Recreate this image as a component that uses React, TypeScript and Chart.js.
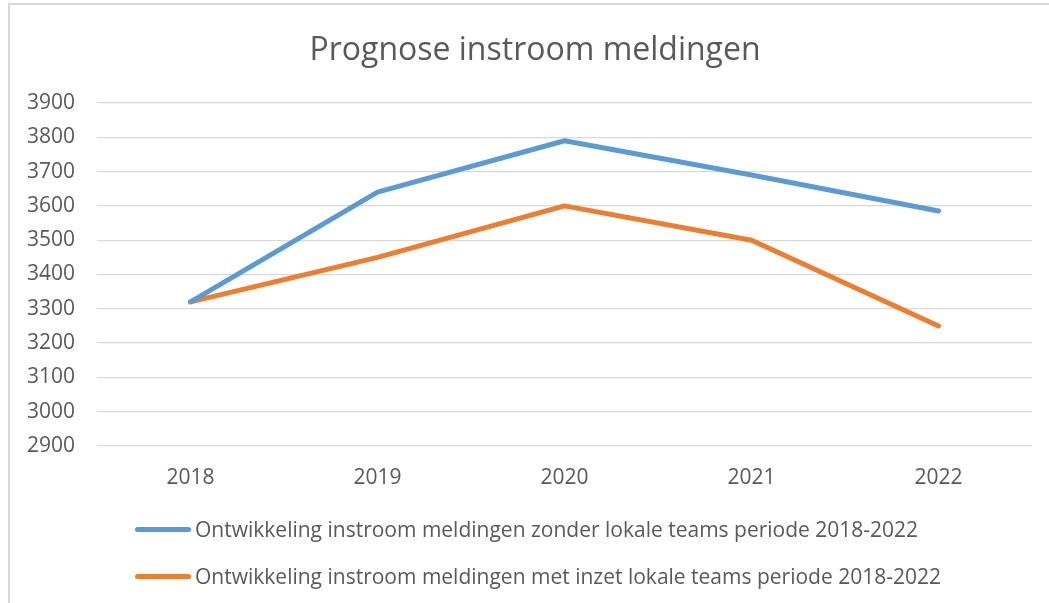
import React, { useEffect, useRef } from "react";
import { Chart, registerables } from "chart.js";

Chart.register(...registerables);

const categories = ["2018", "2019", "2020", "2021", "2022"];
const zonderValues = [3320, 3640, 3790, 3690, 3585];
const metValues = [3320, 3450, 3600, 3500, 3250];
const seriesLabels = [
  "Ontwikkeling instroom meldingen zonder lokale teams periode 2018-2022",
  "Ontwikkeling instroom meldingen met inzet lokale teams periode 2018-2022",
];
const seriesColors = ["#5b9bd5", "#ed7d31"];
const yMin = 2900;
const yMax = 3900;
const yStep = 100;
const titleText = "Prognose instroom meldingen";

const FONT = "'Open Sans', sans-serif";
const TEXT = "#595959";

export default function App() {
  const ref = useRef<HTMLCanvasElement | null>(null);

  useEffect(() => {
    if (!ref.current) return;
    const chart = new Chart(ref.current, {
      type: "line",
      data: {
        labels: categories,
        datasets: [
          {
            label: seriesLabels[0],
            data: zonderValues,
            borderColor: seriesColors[0],
            backgroundColor: seriesColors[0],
            borderWidth: 5,
            borderCapStyle: "round",
            borderJoinStyle: "round",
            pointRadius: 0,
            tension: 0,
          },
          {
            label: seriesLabels[1],
            data: metValues,
            borderColor: seriesColors[1],
            backgroundColor: seriesColors[1],
            borderWidth: 5,
            borderCapStyle: "round",
            borderJoinStyle: "round",
            pointRadius: 0,
            tension: 0,
          },
        ],
      },
      options: {
        animation: false,
        responsive: false,
        layout: { padding: { left: 0, right: 17, top: 103, bottom: 97 } },
        plugins: {
          legend: { display: false },
          title: { display: false },
          tooltip: { enabled: false },
        },
        scales: {
          x: {
            offset: true,
            grid: { display: false, drawTicks: false },
            border: { display: false },
            ticks: {
              color: TEXT,
              font: { family: FONT, size: 21 },
              padding: 19,
              maxRotation: 0,
            },
            afterFit: (s: any) => {
              s.height = 60;
            },
          },
          y: {
            min: yMin,
            max: yMax,
            grid: { color: "#d9d9d9", lineWidth: 1.3, drawTicks: false },
            border: { display: false },
            ticks: {
              stepSize: yStep,
              color: TEXT,
              font: { family: FONT, size: 21 },
              padding: 22,
              callback: (v: any) => String(v),
            },
            afterFit: (s: any) => {
              s.width = 97;
            },
          },
        },
      },
    });
    return () => chart.destroy();
  }, []);

  return (
    <div
      style={{
        position: "fixed",
        left: 0,
        top: 0,
        width: 1049,
        height: 603,
        overflow: "hidden",
        background: "#fff",
        fontFamily: FONT,
      }}
    >
      <div
        style={{
          position: "absolute",
          left: 8,
          top: 3,
          width: 1200,
          height: 800,
          border: "2px solid #d9d9d9",
        }}
      />
      <canvas
        ref={ref}
        width={1049}
        height={603}
        style={{ position: "absolute", left: 0, top: 0, width: 1049, height: 603 }}
      />
      <div
        style={{
          position: "absolute",
          left: 0,
          width: 1070,
          top: 28,
          lineHeight: "40px",
          textAlign: "center",
          fontSize: 32,
          color: TEXT,
          whiteSpace: "nowrap",
        }}
      >
        {titleText}
      </div>
      {seriesLabels.map((lab, i) => (
        <div
          key={lab}
          style={{
            position: "absolute",
            left: 135,
            top: i === 0 ? 517 : 564,
            height: 24,
            display: "flex",
            alignItems: "center",
            fontSize: 21,
            color: TEXT,
            whiteSpace: "nowrap",
          }}
        >
          <span
            style={{
              display: "inline-block",
              width: 56,
              height: 5,
              borderRadius: 3,
              background: seriesColors[i],
              marginRight: 4,
            }}
          />
          <span>{lab}</span>
        </div>
      ))}
    </div>
  );
}
